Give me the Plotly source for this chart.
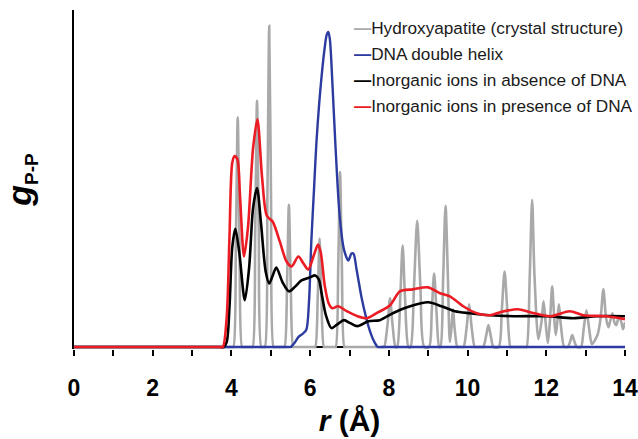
import plotly.graph_objects as go

# ---------------- data (g in arbitrary units) ----------------
tick_vals = [0, 2, 4, 6, 8, 10, 12, 14]
tick_text = ["0", "2", "4", "6", "8", "10", "12", "14"]

series_names = [
    "Hydroxyapatite (crystal structure)",
    "DNA double helix",
    "Inorganic ions in absence of DNA",
    "Inorganic ions in presence of DNA",
]
series_colors = ["#a9a9a9", "#2b3b9f", "#000000", "#ec1c24"]

# Hydroxyapatite (crystal structure)
hap_r = [0.0, 1.0, 2.0, 3.0, 3.9, 4.02, 4.05, 4.115, 4.16, 4.205, 4.27, 4.30,
         4.51, 4.54, 4.605, 4.65, 4.695, 4.76, 4.80,
         4.82, 4.85, 4.915, 4.96, 5.005, 5.07, 5.10,
         5.32, 5.35, 5.415, 5.46, 5.505, 5.57, 5.60,
         6.10, 6.13, 6.195, 6.24, 6.285, 6.35, 6.38,
         6.62, 6.65, 6.715, 6.76, 6.805, 6.87, 6.90,
         7.85, 7.88, 7.97, 8.03, 8.09, 8.17,
         8.21, 8.29, 8.35, 8.41, 8.50,
         8.55, 8.64, 8.72, 8.80, 8.90,
         9.02, 9.09, 9.15, 9.21, 9.28,
         9.31, 9.38, 9.44, 9.50, 9.55, 9.59, 9.63, 9.67, 9.74, 9.77,
         9.87, 9.90, 9.98, 10.04, 10.10, 10.18, 10.21,
         10.37, 10.40, 10.47, 10.53, 10.59, 10.66,
         10.79, 10.87, 10.94, 11.01, 11.09, 11.12,
         11.47, 11.50, 11.58, 11.64, 11.70, 11.80,
         11.88, 11.93, 11.98, 12.04, 12.10, 12.15, 12.20, 12.24,
         12.28, 12.32, 12.37, 12.45, 12.48,
         12.55, 12.61, 12.66, 12.71, 12.78,
         12.88, 12.95, 13.02, 13.09, 13.16,
         13.30, 13.38, 13.45, 13.52, 13.58, 13.63, 13.68, 13.73, 13.78,
         13.84, 13.90, 13.95, 14.0]
hap_g = [0.0, 0.0, 0.0, 0.0, 0.0, 0.0, 0.0, 1.10, 2.31, 1.10, 0.0, 0.0,
         0.0, 0.0, 1.18, 2.48, 1.18, 0.0, 0.0,
         0.0, 0.0, 1.55, 3.23, 1.55, 0.0, 0.0,
         0.0, 0.0, 0.68, 1.43, 0.68, 0.0, 0.0,
         0.0, 0.0, 0.52, 1.09, 0.52, 0.0, 0.0,
         0.0, 0.0, 0.84, 1.76, 0.84, 0.0, 0.0,
         0.0, 0.0, 0.24, 0.49, 0.24, 0.0,
         0.0, 0.50, 1.02, 0.50, 0.0,
         0.0, 0.62, 1.27, 0.62, 0.0,
         0.0, 0.36, 0.74, 0.36, 0.0,
         0.0, 0.70, 1.42, 0.70, 0.05, 0.19, 0.38, 0.19, 0.0, 0.0,
         0.0, 0.0, 0.21, 0.43, 0.21, 0.0, 0.0,
         0.0, 0.0, 0.11, 0.22, 0.11, 0.0,
         0.0, 0.37, 0.76, 0.37, 0.0, 0.0,
         0.0, 0.0, 0.72, 1.48, 0.72, 0.08,
         0.26, 0.46, 0.26, 0.04, 0.30, 0.61, 0.30, 0.12,
         0.25, 0.43, 0.22, 0.0, 0.0,
         0.0, 0.06, 0.12, 0.06, 0.0,
         0.0, 0.18, 0.37, 0.18, 0.03,
         0.12, 0.29, 0.58, 0.29, 0.20, 0.27, 0.34, 0.25, 0.22,
         0.30, 0.26, 0.18, 0.25]

# DNA double helix
dna_r = [0.0, 1.0, 2.0, 3.0, 4.0, 5.0, 5.35, 5.45, 5.50, 5.60, 5.70, 5.80, 5.90,
         5.97, 6.03, 6.10, 6.16, 6.23, 6.29, 6.36, 6.42, 6.46, 6.50, 6.56, 6.64,
         6.75, 6.86, 6.97, 7.05, 7.10, 7.18, 7.31, 7.42, 7.52, 7.62, 7.72, 7.80,
         7.90, 8.5, 9.5, 10.5, 11.5, 12.5, 13.5, 14.0]
dna_g = [0.0, 0.0, 0.0, 0.0, 0.0, 0.0, 0.0, 0.0, 0.0, 0.04, 0.10, 0.13, 0.17,
         0.45, 1.06, 1.60, 2.06, 2.45, 2.72, 2.98, 3.14, 3.17, 3.10, 2.70, 2.05,
         1.32, 0.98, 0.87, 0.94, 0.94, 0.78, 0.49, 0.30, 0.16, 0.06, 0.0, 0.0,
         0.0, 0.0, 0.0, 0.0, 0.0, 0.0, 0.0, 0.0]

# Inorganic ions in absence of DNA
abs_r = [0.0, 1.0, 2.0, 3.0, 3.6, 3.72, 3.80, 3.88, 3.95, 4.02, 4.10, 4.20, 4.34,
         4.45, 4.55, 4.65, 4.75, 4.87, 4.96, 5.05, 5.14, 5.30, 5.46, 5.60, 5.78,
         5.99, 6.13, 6.22, 6.30, 6.40, 6.54, 6.70, 6.86, 7.02, 7.20, 7.48, 7.77,
         8.10, 8.54, 9.00, 9.34, 9.68, 10.06, 10.57, 11.16, 12.01, 12.68, 13.29, 14.0]
abs_g = [0.0, 0.0, 0.0, 0.0, 0.0, 0.0, 0.0, 0.05, 0.40, 1.00, 1.19, 0.95, 0.47,
         0.80, 1.40, 1.60, 1.25, 0.76, 0.64, 0.72, 0.80, 0.65, 0.56, 0.60, 0.67,
         0.70, 0.72, 0.68, 0.52, 0.32, 0.19, 0.23, 0.27, 0.24, 0.21, 0.26, 0.27,
         0.34, 0.41, 0.45, 0.41, 0.36, 0.34, 0.32, 0.31, 0.31, 0.29, 0.31, 0.31]

# Inorganic ions in presence of DNA
pres_r = [0.0, 1.0, 2.0, 3.0, 3.6, 3.70, 3.78, 3.88, 3.95, 4.02, 4.08, 4.15,
          4.22, 4.32, 4.42, 4.55, 4.66, 4.78, 4.90, 5.05, 5.23, 5.40, 5.53, 5.70,
          5.83, 5.95, 6.10, 6.20, 6.27, 6.37, 6.47, 6.56, 6.71, 6.93, 7.20, 7.44,
          7.73, 8.03, 8.28, 8.61, 9.00, 9.30, 9.55, 9.89, 10.23, 10.57, 10.83,
          11.28, 11.59, 12.10, 12.60, 12.94, 13.54, 14.0]
pres_g = [0.0, 0.0, 0.0, 0.0, 0.0, 0.0, 0.0, 0.30, 1.10, 1.85, 1.92, 1.89,
          1.50, 0.91, 1.20, 2.00, 2.29, 1.70, 1.32, 1.26, 1.06, 0.86, 0.81, 0.91,
          0.84, 0.78, 0.93, 1.03, 0.95, 0.62, 0.44, 0.39, 0.41, 0.36, 0.31, 0.29,
          0.35, 0.42, 0.56, 0.58, 0.60, 0.54, 0.51, 0.41, 0.34, 0.32, 0.35,
          0.38, 0.35, 0.31, 0.36, 0.32, 0.31, 0.28]

x_range = [0, 14]
y_range = [-0.02, 3.39]

# ---------------- figure ----------------
fig = go.Figure()
traces = [(hap_r, hap_g, 2.6), (dna_r, dna_g, 2.4), (abs_r, abs_g, 2.6), (pres_r, pres_g, 2.6)]
for (xr, yg, w), name, col in zip(traces, series_names, series_colors):
    fig.add_trace(go.Scatter(
        x=xr, y=yg, name=name, mode="lines",
        line=dict(color=col, width=w, shape="spline", smoothing=0.8),
        showlegend=False,
    ))

# legend drawn as text rows (short line symbol + label)
legend_y = [0.947, 0.870, 0.794, 0.717]
for name, col, yy in zip(series_names, series_colors, legend_y):
    fig.add_annotation(
        xref="paper", yref="paper", x=0.5045, y=yy,
        xanchor="left", yanchor="middle", showarrow=False,
        text=f"<span style='color:{col}'><b>\u2014</b></span>{name}",
        font=dict(family="Liberation Sans, Arial, sans-serif", size=17.2, color="#1a1a1a"),
    )

fig.update_layout(
    width=638, height=439,
    margin=dict(l=74, r=13, t=10, b=90),
    paper_bgcolor="white", plot_bgcolor="white",
    font=dict(family="Liberation Sans, Arial, sans-serif", color="black"),
)
fig.update_xaxes(
    range=x_range, tickvals=tick_vals, ticktext=tick_text,
    ticks="outside", ticklen=6, tickwidth=2, tickcolor="black",
    minor=dict(dtick=1, ticks="outside", ticklen=6, tickwidth=2, tickcolor="black"),
    showline=False, showgrid=False, zeroline=False,
    tickfont=dict(family="Liberation Sans, Arial, sans-serif", size=23, color="black", weight="bold"),
    ticklabelstandoff=12, ticklabeloverflow="allow",
    title=dict(text="<b><i>r</i> (Å)</b>", font=dict(size=30, family="Liberation Sans, Arial, sans-serif"), standoff=10),
    automargin=False,
)
fig.update_yaxes(
    range=y_range, showline=True, linecolor="black", linewidth=2,
    showticklabels=False, ticks="", showgrid=False,
    zeroline=True, zerolinecolor="black", zerolinewidth=2,
    layer="below traces",
    title=dict(text="<b><i>g</i></b><sub><b><span style='font-size:19px'>P-P</span></b></sub>",
               font=dict(size=34, family="Liberation Sans, Arial, sans-serif"), standoff=30),
    automargin=False,
)

fig.write_html("out.html")
